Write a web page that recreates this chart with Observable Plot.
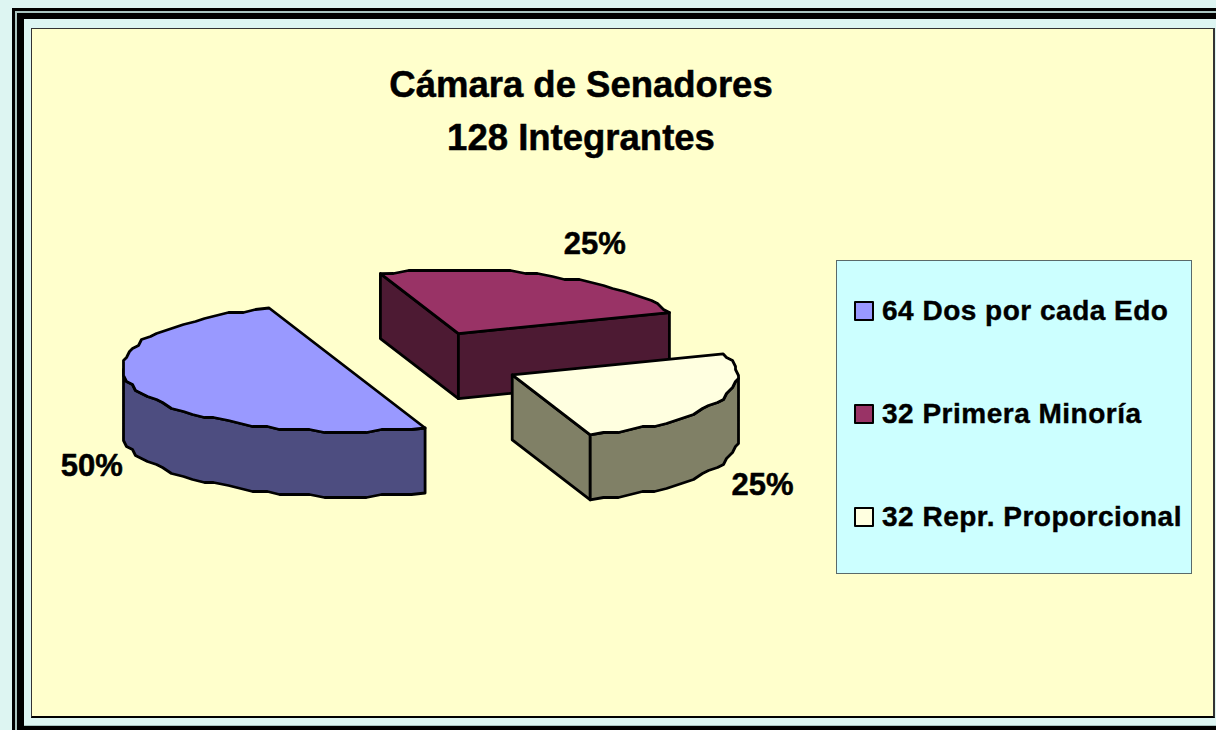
<!DOCTYPE html>
<html lang="es">
<head>
<meta charset="utf-8">
<script src="https://cdn.jsdelivr.net/npm/d3@7"></script>
<script src="https://cdn.jsdelivr.net/npm/@observablehq/plot@0.6"></script>
<style>
  html, body { margin:0; padding:0; width:1216px; height:730px; overflow:hidden; background:#DDF5F2; font-family:"Liberation Sans",Arial,sans-serif; }
  .frame { position:absolute; left:12px; top:8px; width:1300px; height:800px; box-sizing:border-box; border:3px solid #000; }
  .frame2 { position:absolute; left:15px; top:11px; width:1300px; height:800px; box-sizing:border-box; border:2px solid #A9C4C0; }
  .frame3 { position:absolute; left:17px; top:13px; width:1300px; height:800px; box-sizing:border-box; border:7px solid #000; border-top-width:6px; background:#000; }
  .cover { position:absolute; left:24px; top:19px; width:1192px; height:706px; background:#DDF5F2; }
  .strip { position:absolute; left:24px; top:725px; width:1192px; height:1px; background:#A9C4C0; }
  .panel { position:absolute; left:31px; top:28px; width:1184px; height:690px; box-sizing:border-box; background:#FFFFCC; border:1px solid #333; border-bottom:2px solid #000; border-right:2px solid #333; }
  #chart { position:absolute; left:0; top:0; }
  .title { position:absolute; left:281px; top:58px; width:600px; text-align:center; font-weight:700; font-size:36.5px; line-height:53px; color:#000; -webkit-text-stroke:0.5px #000; }
  .legend { position:absolute; left:836px; top:260px; width:356px; height:314px; box-sizing:border-box; background:#CCFFFF; border:1px solid #5A6A6A; }
  .item { position:absolute; left:17px; display:flex; align-items:center; font-weight:700; font-size:28px; letter-spacing:0.5px; white-space:nowrap; color:#000; -webkit-text-stroke:0.4px #000; }
  .sw { display:inline-block; width:16px; height:16px; border:2px solid #000; border-radius:1px; margin-right:8px; -webkit-text-stroke:0; }
</style>
</head>
<body>
<div class="frame"></div><div class="frame2"></div><div class="frame3"></div>
<div class="cover"></div><div class="strip"></div>
<div class="panel"></div>
<div class="title">Cámara de Senadores<br>128 Integrantes</div>
<div class="legend" id="legend"></div>
<div id="chart"></div>
<script>
const seats = [64, 32, 32];
const legendLabels = ["64 Dos por cada Edo", "32 Primera Minoría", "32 Repr. Proporcional"];
const topColors = ["#9999FF", "#993366", "#FFFFE0"];
const sideColors = ["#4D4D80", "#4D1A33", "#808066"];
const explosions = [0.31, 0.488, 0.488];
const labelRadius = [1.21, 1.45, 1.225];
const labelDrop = [73, -6, 76];

// Projection of the tilted, rotated pie: unit circle -> screen pixels
const centre = [412, 361], axisU = [78, 60], axisV = [211, -21], depth = 65;
const proj = (a, r, o) => [o[0] + r * (axisU[0] * Math.cos(a) + axisV[0] * Math.sin(a)),
                           o[1] + r * (axisU[1] * Math.cos(a) + axisV[1] * Math.sin(a))];
// The source picture's arcs are coarsely rasterised, with a visible wobble
const snap = (p, g = 3) => [Math.round(p[0] / g) * g, Math.round(p[1] / g) * g];
const down = (p) => [p[0], p[1] + depth];

const total = d3.sum(seats);
const twoPi = Math.PI * 2;
const leftEdge = Math.atan2(axisV[0], axisU[0]) - Math.PI;  // silhouette extreme
const slices = [];
let cum = 0;
seats.forEach((s, i) => {
  const a0 = -twoPi * cum / total, a1 = -twoPi * (cum + s) / total;
  cum += s;
  const mid = (a0 + a1) / 2;
  const apex = proj(mid, explosions[i], centre);
  const steps = Math.max(2, Math.round((a0 - a1) / (Math.PI / 48)));
  const arc = d3.range(steps + 1).map(k => {
    const a = a0 + (a1 - a0) * k / steps;
    const p = proj(a, 1, apex);
    return {a, p: (k === 0 || k === steps) ? p : snap(p)};
  });
  slices.push({i, a0, a1, mid, apex, arc});
});

const isVisible = (a) => {           // wall faces the viewer between the two silhouette extremes
  const t = (((a - leftEdge) % twoPi) + twoPi) % twoPi;
  return t <= Math.PI;
};
const poly = (pts, fill) => Plot.line(
  [...pts, pts[0]].map(p => ({x: p[0], y: p[1]})),
  {x: "x", y: "y", fill, stroke: "#000", strokeWidth: 2.8, strokeLinejoin: "round", curve: "linear"}
);

const marks = [];
slices.forEach(sl => {
  const {i, apex, arc} = sl;
  const outline = [apex, ...arc.map(d => d.p)];
  const inner = d3.polygonCentroid(outline);
  const first = arc[0].p, last = arc[arc.length - 1].p;
  [[apex, first], [apex, last]].forEach(([p, q]) => {
    let n = [-(q[1] - p[1]), q[0] - p[0]];
    if (n[0] * (inner[0] - p[0]) + n[1] * (inner[1] - p[1]) > 0) n = [-n[0], -n[1]];
    if (n[1] > 0) marks.push(poly([p, q, down(q), down(p)], sideColors[i]));
  });
  const vis = arc.filter(d => isVisible(d.a)).map(d => d.p);
  if (vis.length > 1) marks.push(poly([...vis, ...vis.slice().reverse().map(down)], sideColors[i]));
  marks.push(poly(outline, topColors[i]));
});

const labels = slices.map(sl => {
  const p = proj(sl.mid, labelRadius[sl.i], sl.apex);
  return {x: p[0], y: p[1] + labelDrop[sl.i], text: d3.format(".0%")(seats[sl.i] / total)};
});
marks.push(Plot.text(labels, {x: "x", y: "y", text: "text", fontSize: 31, fontWeight: 700, fill: "#000", stroke: "#000", strokeWidth: 0.5, fontFamily: "Liberation Sans, Arial, sans-serif"}));

const chart = Plot.plot({
  width: 1216, height: 730,
  margin: 0,
  style: {background: "transparent", overflow: "visible"},
  x: {domain: [0, 1216], range: [0, 1216], axis: null},
  y: {domain: [0, 730], range: [0, 730], axis: null},
  marks
});
document.getElementById("chart").appendChild(chart);

const legend = document.getElementById("legend");
legendLabels.forEach((t, i) => {
  const row = document.createElement("div");
  row.className = "item";
  row.style.top = 34 + 103 * i + "px";
  const sw = document.createElement("span");
  sw.className = "sw"; sw.style.background = topColors[i];
  row.appendChild(sw);
  row.appendChild(document.createTextNode(t));
  legend.appendChild(row);
});
</script>
</body>
</html>
